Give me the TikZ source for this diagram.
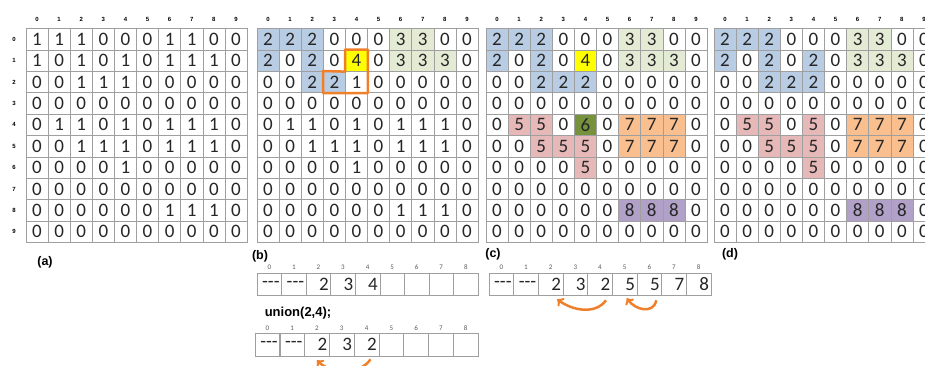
\documentclass[tikz,border=0pt]{standalone}
\usepackage{fontspec}
\setmainfont{Carlito}
\setsansfont{Liberation Sans}
\usetikzlibrary{positioning,calc}

\definecolor{cblue}{HTML}{B8CCE4}
\definecolor{cgreen}{HTML}{E4EBD4}
\definecolor{cyellow}{HTML}{FFFF00}
\definecolor{cpink}{HTML}{E6B8B7}
\definecolor{cdark}{HTML}{76923C}
\definecolor{corange}{HTML}{FABF8F}
\definecolor{cpurple}{HTML}{B1A0C7}
\definecolor{cline}{HTML}{F07F2A}

\begin{document}
\begin{tikzpicture}[x=1pt, y=-1pt,
    cell/.style={rectangle, draw=gray!75, line width=0.6pt, minimum width=22.1pt, minimum height=21.4pt, inner sep=0pt, text=black!85, font=\fontsize{19}{19}\selectfont},
    val0/.style={}, val1/.style={},
    val2/.style={fill=cblue}, val3/.style={fill=cgreen}, val4/.style={fill=cyellow},
    val5/.style={fill=cpink}, val6/.style={fill=cdark}, val7/.style={fill=corange},
    val8/.style={fill=cpurple},
    hdr/.style={font=\sffamily\bfseries\fontsize{6}{6}\selectfont, inner sep=0pt},
    idx/.style={font=\fontsize{7}{7}\selectfont, text=gray!70!black, inner sep=0pt},
    slot/.style={rectangle, draw=gray!75, line width=0.6pt, minimum height=22pt, text width=20.6pt, inner xsep=2pt, inner ysep=0pt, align=right, text=black!85, font=\fontsize{19}{19}\selectfont},
    lbl/.style={font=\sffamily\bfseries\fontsize{12.5}{12.5}\selectfont, inner sep=0pt},
    outline/.style={draw=cline, line width=2.5pt, line join=round},
    curl/.style={->, draw=cline, line width=2.5pt}
]
    \useasboundingbox (0,0) rectangle (925,365);
    \clip (0,0) rectangle (925,365);

    % column and row numbers
    \foreach \g/\gx in {a/26, b/257, c/486, d/714}
        \foreach \c in {0,...,9}
            \node[hdr] (h\g-\c) at ({\gx+11.05+22.1*\c}, 19) {\c};
    \foreach \r in {0,...,9}
        \node[hdr] (ra-\r) at (14, {39.2+21.4*\r}) {\r};

    % (a) input image
    \foreach \row [count=\r from 0] in {{1,1,1,0,0,0,1,1,0,0},{1,0,1,0,1,0,1,1,1,0},{0,0,1,1,1,0,0,0,0,0},{0,0,0,0,0,0,0,0,0,0},{0,1,1,0,1,0,1,1,1,0},{0,0,1,1,1,0,1,1,1,0},{0,0,0,0,1,0,0,0,0,0},{0,0,0,0,0,0,0,0,0,0},{0,0,0,0,0,0,1,1,1,0},{0,0,0,0,0,0,0,0,0,0}}
        \foreach \v [count=\c from 0] in \row
            \node[cell, val\v] (a-\r-\c) at ({37.05+22.1*\c}, {39.2+21.4*\r}) {\v};

    % (b) first rows labelled
    \foreach \row [count=\r from 0] in {{2,2,2,0,0,0,3,3,0,0},{2,0,2,0,4,0,3,3,3,0},{0,0,2,2,1,0,0,0,0,0},{0,0,0,0,0,0,0,0,0,0},{0,1,1,0,1,0,1,1,1,0},{0,0,1,1,1,0,1,1,1,0},{0,0,0,0,1,0,0,0,0,0},{0,0,0,0,0,0,0,0,0,0},{0,0,0,0,0,0,1,1,1,0},{0,0,0,0,0,0,0,0,0,0}}
        \foreach \v [count=\c from 0] in \row
            \node[cell, val\v] (b-\r-\c) at ({268.05+22.1*\c}, {39.2+21.4*\r}) {\v};

    % (c) first pass done
    \foreach \row [count=\r from 0] in {{2,2,2,0,0,0,3,3,0,0},{2,0,2,0,4,0,3,3,3,0},{0,0,2,2,2,0,0,0,0,0},{0,0,0,0,0,0,0,0,0,0},{0,5,5,0,6,0,7,7,7,0},{0,0,5,5,5,0,7,7,7,0},{0,0,0,0,5,0,0,0,0,0},{0,0,0,0,0,0,0,0,0,0},{0,0,0,0,0,0,8,8,8,0},{0,0,0,0,0,0,0,0,0,0}}
        \foreach \v [count=\c from 0] in \row
            \node[cell, val\v] (c-\r-\c) at ({497.05+22.1*\c}, {39.2+21.4*\r}) {\v};

    % (d) second pass
    \foreach \row [count=\r from 0] in {{2,2,2,0,0,0,3,3,0,0},{2,0,2,0,2,0,3,3,3,0},{0,0,2,2,2,0,0,0,0,0},{0,0,0,0,0,0,0,0,0,0},{0,5,5,0,5,0,7,7,7,0},{0,0,5,5,5,0,7,7,7,0},{0,0,0,0,5,0,0,0,0,0},{0,0,0,0,0,0,0,0,0,0},{0,0,0,0,0,0,8,8,8,0},{0,0,0,0,0,0,0,0,0,0}}
        \foreach \v [count=\c from 0] in \row
            \node[cell, val\v] (d-\r-\c) at ({725.05+22.1*\c}, {39.2+21.4*\r}) {\v};

    \draw[outline] (b-1-4.north west) -- (b-1-4.north east) -- (b-2-4.south east) -- (b-2-3.south west) -- (b-2-3.north west) -- (b-1-4.south west) -- cycle;

    \node[lbl] (la) at (45, 262) {(a)};
    \node[lbl] (lb) at (260, 256) {(b)};
    \node[lbl] (lc) at (493, 254) {(c)};
    \node[lbl] (ld) at (730, 254) {(d)};

    % parent arrays
    \foreach \v [count=\i from 0] in {-\kern0pt-\kern0pt-, -\kern0pt-\kern0pt-, 2, 3, 4, {}, {}, {}, {}} {
        \node[slot] (p-\i) at ({269.3+24.56*\i}, 284) {\v};
        \node[idx] (pi-\i) at ({269.3+24.56*\i}, 267) {\i};
    }
    \node[font=\sffamily\bfseries\fontsize{13}{13}\selectfont, inner sep=0pt] (un) at (298, 313) {union(2,4);};
    \foreach \v [count=\i from 0] in {-\kern0pt-\kern0pt-, -\kern0pt-\kern0pt-, 2, 3, 2, {}, {}, {}, {}} {
        \node[slot, minimum height=23pt] (u-\i) at ({267.4+24.78*\i}, 344.5) {\v};
        \node[idx] (ui-\i) at ({267.4+24.78*\i}, 328) {\i};
    }
    \foreach \v [count=\i from 0] in {-\kern0pt-\kern0pt-, -\kern0pt-\kern0pt-, 2, 3, 2, 5, 5, 7, 8} {
        \node[slot] (q-\i) at ({501.3+24.67*\i}, 284) {\v};
        \node[idx] (qi-\i) at ({501.3+24.67*\i}, 267) {\i};
    }

    \draw[curl] ([xshift=4pt, yshift=-3pt]u-4.south) .. controls +(-10,15) and +(15,15) .. ([yshift=-4pt]u-2.south);
    \draw[curl] ([xshift=6pt, yshift=-5pt]q-4.south) .. controls +(-10,14) and +(16,12) .. ([xshift=-6pt, yshift=-4pt]q-2.south east);
    \draw[curl] ([xshift=7pt, yshift=-5pt]q-6.south) .. controls +(-3,14) and +(9,12) .. ([xshift=2pt, yshift=-3pt]q-5.south);
\end{tikzpicture}
\end{document}
